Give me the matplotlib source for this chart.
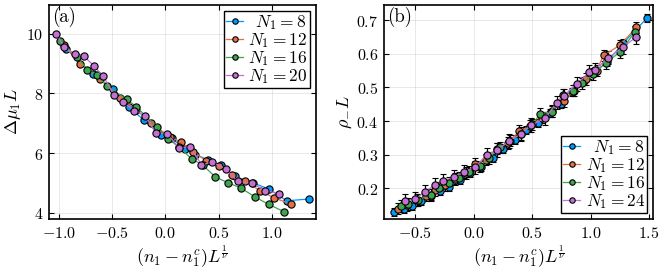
import matplotlib
matplotlib.use("Agg")
import matplotlib.pyplot as plt
from matplotlib.ticker import FuncFormatter, FixedLocator

plt.rcParams['mathtext.fontset'] = 'cm'
plt.rcParams['font.family'] = ['DejaVu Serif']

# ---------------- Panel (a) data ----------------
a_x8 = [-0.93, -0.68, -0.49, -0.34, -0.20, -0.04, 0.06, 0.19, 0.28, 0.40, 0.52, 0.65, 0.82, 0.97, 1.14, 1.35]
a_y8 = [9.50, 8.65, 8.15, 7.55, 7.10, 6.60, 6.50, 6.12, 5.95, 5.78, 5.60, 5.22, 5.00, 4.80, 4.40, 4.46]
a_x12 = [-0.95, -0.80, -0.61, -0.42, -0.27, -0.13, 0.04, 0.15, 0.26, 0.38, 0.50, 0.63, 0.75, 0.89, 1.02, 1.18]
a_y12 = [9.62, 8.98, 8.50, 7.85, 7.45, 7.00, 6.55, 6.36, 6.05, 5.75, 5.55, 5.28, 5.05, 4.74, 4.50, 4.29]
a_x16 = [-0.99, -0.83, -0.73, -0.64, -0.55, -0.36, -0.27, -0.08, 0.03, 0.13, 0.25, 0.35, 0.47, 0.59, 0.71, 0.84, 0.97, 1.11]
a_y16 = [9.77, 9.22, 8.80, 8.62, 8.25, 7.80, 7.55, 6.88, 6.47, 6.20, 5.80, 5.60, 5.20, 5.00, 4.83, 4.53, 4.28, 4.04]
a_x20 = [-1.02, -0.95, -0.85, -0.76, -0.67, -0.58, -0.48, -0.40, -0.29, -0.19, -0.09, 0.02, 0.13, 0.23, 0.34, 0.44, 0.57, 0.68, 0.81, 0.94, 1.07]
a_y20 = [10.00, 9.55, 9.32, 9.24, 8.93, 8.57, 7.95, 7.72, 7.42, 7.26, 6.68, 6.65, 6.17, 6.22, 5.61, 5.69, 5.46, 5.05, 4.99, 4.74, 4.64]
a_err = 0.04
a_labels = [r'$\enspace N_1 = 8$', r'$N_1 = 12$', r'$N_1 = 16$', r'$N_1 = 20$']

# ---------------- Panel (b) data ----------------
b_x8 = [-0.68, -0.60, -0.53, -0.45, -0.37, -0.29, -0.21, -0.12, -0.03, 0.06, 0.16, 0.25, 0.35, 0.45, 0.55, 0.65, 0.75, 0.84, 0.94, 1.04, 1.14, 1.28, 1.48]
b_y8 = [0.130, 0.138, 0.148, 0.163, 0.178, 0.192, 0.205, 0.225, 0.247, 0.264, 0.290, 0.317, 0.345, 0.372, 0.395, 0.425, 0.452, 0.485, 0.520, 0.548, 0.575, 0.632, 0.705]
b_x12 = [-0.65, -0.57, -0.49, -0.41, -0.33, -0.25, -0.16, -0.07, 0.01, 0.10, 0.20, 0.29, 0.39, 0.48, 0.58, 0.67, 0.77, 0.86, 0.96, 1.05, 1.11, 1.25, 1.39]
b_y12 = [0.140, 0.150, 0.165, 0.178, 0.195, 0.210, 0.228, 0.245, 0.272, 0.285, 0.318, 0.335, 0.370, 0.385, 0.410, 0.430, 0.460, 0.490, 0.525, 0.550, 0.595, 0.625, 0.678]
b_x16 = [-0.62, -0.56, -0.48, -0.37, -0.30, -0.21, -0.13, -0.04, 0.05, 0.13, 0.22, 0.31, 0.40, 0.50, 0.57, 0.67, 0.76, 0.85, 0.93, 1.02, 1.13, 1.25, 1.38]
b_y16 = [0.148, 0.153, 0.165, 0.180, 0.202, 0.217, 0.232, 0.250, 0.265, 0.290, 0.322, 0.342, 0.360, 0.390, 0.422, 0.428, 0.478, 0.490, 0.512, 0.540, 0.572, 0.605, 0.665]
b_x24 = [-0.585, -0.50, -0.42, -0.33, -0.26, -0.17, -0.08, 0.01, 0.11, 0.20, 0.30, 0.40, 0.49, 0.61, 0.71, 0.77, 0.88, 0.99, 1.04, 1.15, 1.28, 1.39]
b_y24 = [0.163, 0.168, 0.190, 0.210, 0.222, 0.234, 0.250, 0.262, 0.300, 0.314, 0.340, 0.362, 0.388, 0.408, 0.455, 0.475, 0.510, 0.545, 0.553, 0.588, 0.620, 0.650]
b_err = [0.012, 0.017, 0.017, 0.020]
b_labels = [r'$\enspace N_1 = 8$', r'$N_1 = 12$', r'$N_1 = 16$', r'$N_1 = 24$']

colors = ['#009AFA', '#E36F47', '#3EA44E', '#C371D2']

fig = plt.figure(figsize=(6.65, 2.72), dpi=100)
axA = fig.add_axes([0.0737, 0.195, 0.4015, 0.787])
axB = fig.add_axes([0.5774, 0.195, 0.405, 0.787])

def style(ax):
    ax.grid(True, color='black', alpha=0.1, linewidth=0.6)
    ax.set_axisbelow(True)
    for s in ax.spines.values():
        s.set_linewidth(1.2)
    ax.tick_params(direction='in', top=True, right=True, length=3.5, width=0.8,
                   labelsize=11.5, pad=4)
    ax.xaxis.set_major_formatter(FuncFormatter(lambda v, p: f'${v:.1f}$'))

def draw(ax, xs, ys, errs, labels):
    for x, y, e, c, lab in zip(xs, ys, errs, colors, labels):
        ax.errorbar(x, y, yerr=e, color=c, lw=0.9, marker='o', ms=5.2,
                    mfc=c, mec='black', mew=0.8, ecolor='black', elinewidth=0.9,
                    capsize=2.5, capthick=0.9, label=lab)

def legend(ax, loc):
    handles, labels = ax.get_legend_handles_labels()
    handles = [h[0] for h in handles]
    leg = ax.legend(handles, labels, loc=loc, fontsize=12.5, frameon=True,
                    fancybox=False, edgecolor='black', framealpha=1,
                    borderpad=0.12, labelspacing=-0.05, handlelength=1.0,
                    handletextpad=0.3, borderaxespad=0.35, markerscale=0.75)
    leg.get_frame().set_linewidth(1.0)
    return leg

# Panel (a)
style(axA)
draw(axA, [a_x8, a_x12, a_x16, a_x20], [a_y8, a_y12, a_y16, a_y20],
     [a_err] * 4, a_labels)
axA.set_xlim(-1.09, 1.414)
axA.set_ylim(3.79, 10.97)
axA.xaxis.set_major_locator(FixedLocator([-1.0, -0.5, 0.0, 0.5, 1.0]))
axA.yaxis.set_major_locator(FixedLocator([4, 6, 8, 10]))
axA.yaxis.set_major_formatter(FuncFormatter(lambda v, p: f'${v:.0f}$'))
axA.set_ylabel(r'$\Delta\mu_1 L$', fontsize=13, labelpad=2)
axA.set_xlabel(r'$(n_1 - n_1^c)L^{\frac{1}{\nu}}$', fontsize=13, labelpad=2)
axA.text(0.012, 0.99, '(a)', transform=axA.transAxes, ha='left', va='top',
         fontsize=13.5, family='cmr10')
legend(axA, 'upper right')

# Panel (b)
style(axB)
draw(axB, [b_x8, b_x12, b_x16, b_x24], [b_y8, b_y12, b_y16, b_y24],
     b_err, b_labels)
axB.set_xlim(-0.769, 1.536)
axB.set_ylim(0.109, 0.745)
axB.xaxis.set_major_locator(FixedLocator([-0.5, 0.0, 0.5, 1.0, 1.5]))
axB.yaxis.set_major_locator(FixedLocator([0.2, 0.3, 0.4, 0.5, 0.6, 0.7]))
axB.yaxis.set_major_formatter(FuncFormatter(lambda v, p: f'${v:.1f}$'))
axB.set_ylabel(r'$\rho_{-}L$', fontsize=13, labelpad=2)
axB.set_xlabel(r'$(n_1 - n_1^c)L^{\frac{1}{\nu}}$', fontsize=13, labelpad=2)
axB.text(0.012, 0.99, '(b)', transform=axB.transAxes, ha='left', va='top',
         fontsize=13.5, family='cmr10')
legend(axB, 'lower right')

fig.savefig('out.png', dpi=100)
